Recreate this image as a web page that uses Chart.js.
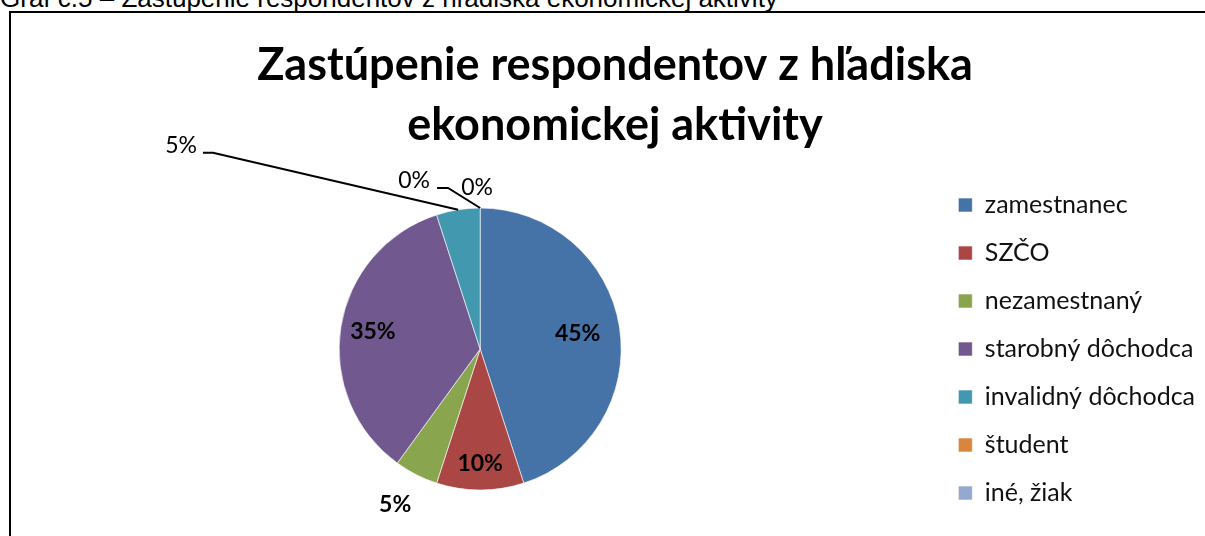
<!DOCTYPE html>
<html>
<head>
<meta charset="utf-8">
<script src="https://cdn.jsdelivr.net/npm/chart.js@4.4.0/dist/chart.umd.min.js"></script>
<style>
  html, body { margin: 0; padding: 0; background: #fff; overflow: hidden; }
  body { width: 1205px; height: 536px; position: relative; }
  #caption { position: absolute; left: 0; top: -14px; font: 26px "Liberation Sans", Arial, sans-serif; line-height: 24px; white-space: nowrap; color: #000; }
  #frame { position: absolute; left: 9px; top: 11px; width: 1300px; height: 600px; border-left: 2px solid #000; border-top: 2px solid #000; }
  #wrap { position: absolute; left: 0; top: 0; width: 1205px; height: 547px; }
</style>
</head>
<body>
<div id="caption">Graf č.5 – Zastúpenie respondentov z hľadiska ekonomickej aktivity</div>
<div id="frame"></div>
<div id="wrap"><canvas id="pieChart"></canvas></div>
<script>
// data (percent of respondents)
const categories = ['zamestnanec', 'SZČO', 'nezamestnaný', 'starobný dôchodca', 'invalidný dôchodca', 'študent', 'iné, žiak'];
const shares = [45, 10, 5, 35, 5, 0, 0];
const sliceColors = ['#4572A7', '#AA4643', '#89A54E', '#71588F', '#4198AF', '#DB843D', '#93A9CF'];
const chartTitle = ['Zastúpenie respondentov z hľadiska', 'ekonomickej aktivity'];

// where each percentage label goes: r = inside at fraction of radius,
// otherwise offset from the slice's outer edge (optionally with a leader line)
const labelSpots = [
  { r: 0.70, bold: true },
  { r: 0.81, bold: true },
  { dx: -21, dy: 30, bold: true },
  { r: 0.77, bold: true },
  { dx: -277, dy: -64, leader: { gap: 6, run: 10, dy: 7 } },
  { dx: -66, dy: -27, leader: { gap: 7, run: 11, dy: 7 } },
  { dx: -3, dy: -20 }
];

const sliceLabels = {
  id: 'sliceLabels',
  afterDatasetsDraw(chart) {
    const ctx = chart.ctx;
    const meta = chart.getDatasetMeta(0);
    const total = shares.reduce((a, b) => a + b, 0);
    meta.data.forEach((arc, i) => {
      const { x, y, startAngle, endAngle, outerRadius } =
        arc.getProps(['x', 'y', 'startAngle', 'endAngle', 'outerRadius'], true);
      const mid = (startAngle + endAngle) / 2;
      const text = Math.round(shares[i] / total * 100) + '%';
      const spot = labelSpots[i];
      ctx.save();
      ctx.fillStyle = '#000';
      ctx.strokeStyle = '#000';
      ctx.textAlign = 'center';
      ctx.textBaseline = 'middle';
      ctx.font = (spot.bold ? 'bold ' : '') + '23px Lato';
      if (spot.r) {
        ctx.fillText(text, x + Math.cos(mid) * outerRadius * spot.r, y + Math.sin(mid) * outerRadius * spot.r);
      } else {
        const ax = x + Math.cos(mid) * outerRadius;
        const ay = y + Math.sin(mid) * outerRadius;
        const lx = ax + spot.dx;
        const ly = ay + spot.dy;
        if (spot.leader) {
          const right = lx + ctx.measureText(text).width / 2;
          const ld = spot.leader;
          ctx.lineWidth = 2;
          ctx.beginPath();
          ctx.moveTo(ax, ay);
          ctx.lineTo(right + ld.gap + ld.run, ly + ld.dy);
          ctx.lineTo(right + ld.gap, ly + ld.dy);
          ctx.stroke();
        }
        ctx.fillText(text, lx, ly);
      }
      ctx.restore();
    });
  }
};

const ctx = document.getElementById('pieChart').getContext('2d');
const chart = new Chart(ctx, {
  type: 'pie',
  data: {
    labels: categories,
    datasets: [{
      data: shares,
      backgroundColor: sliceColors,
      borderColor: 'rgba(255,255,255,0.6)',
      borderWidth: 1,
      radius: 141
    }]
  },
  options: {
    responsive: true,
    maintainAspectRatio: false,
    animation: false,
    layout: { padding: { left: 25, right: 0, top: 0, bottom: 5 } },
    plugins: {
      title: {
        display: true,
        text: chartTitle,
        color: '#000',
        font: { family: 'Lato', size: 45, weight: 'bold', lineHeight: 1.345 },
        padding: { top: 35, bottom: 0 }
      },
      legend: {
        position: 'right',
        fullSize: false,
        labels: {
          color: '#111',
          font: { family: 'Lato', size: 25 },
          boxWidth: 14,
          boxHeight: 14,
          padding: 23
        }
      },
      tooltip: { enabled: false }
    }
  },
  plugins: [sliceLabels]
});
</script>
</body>
</html>
